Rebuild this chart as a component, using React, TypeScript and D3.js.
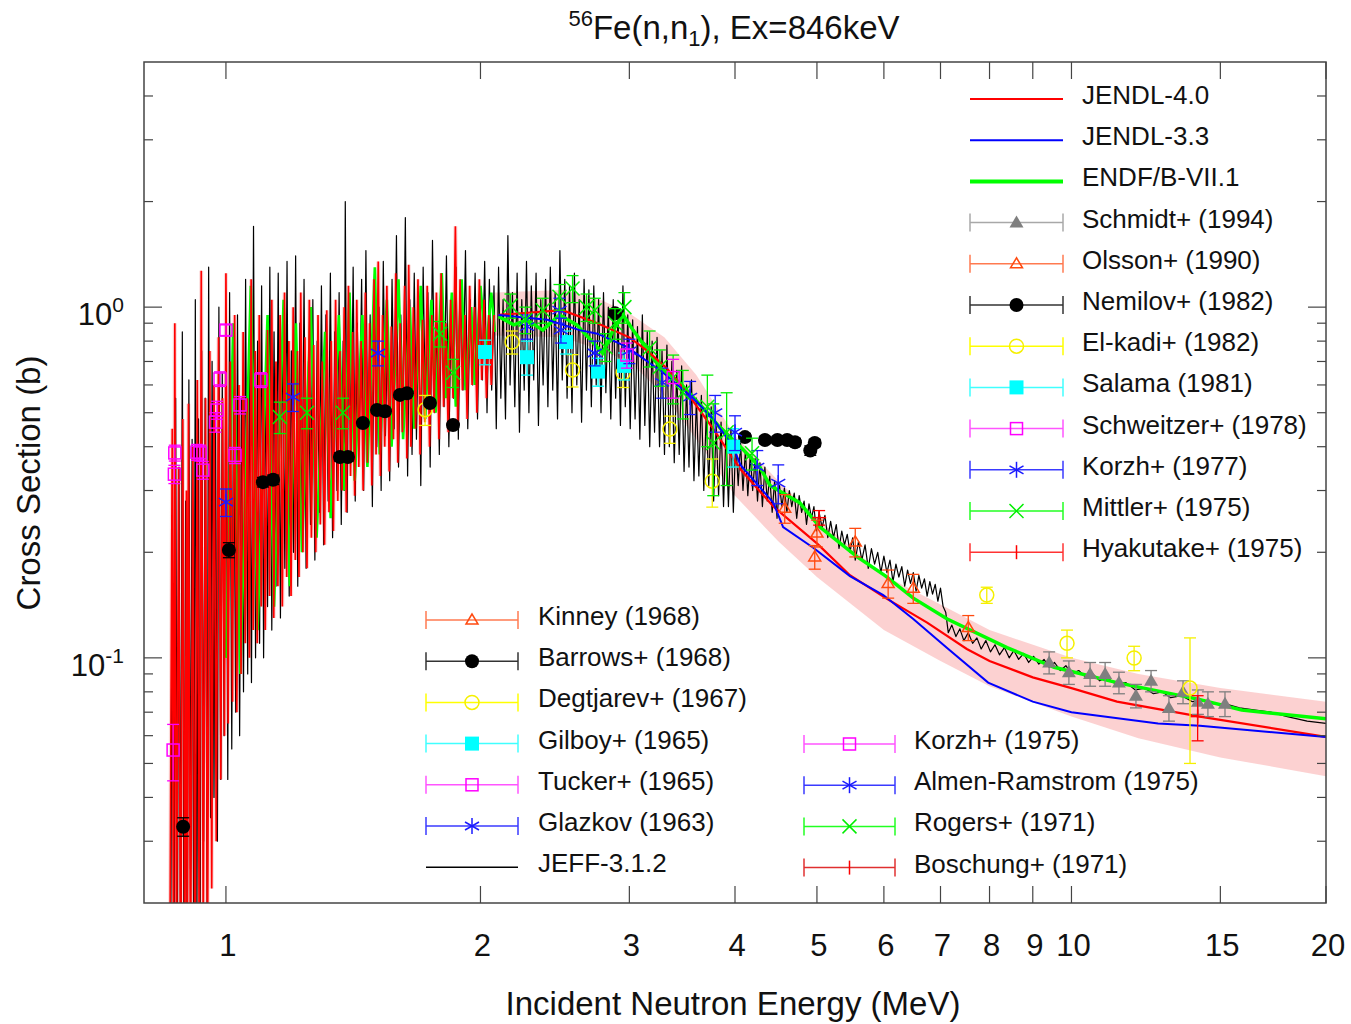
import React from "react";
import * as d3 from "d3";

type P = [number, number];

// ---------------- axes ----------------
const X_DOMAIN: [number, number] = [0.8, 20];
const Y_DOMAIN: [number, number] = [0.02, 5];
const X_TICKS = [1, 2, 3, 4, 5, 6, 7, 8, 9, 10, 15, 20];
const Y_MAJOR = [0.1, 1];
const Y_MAJOR_EXP = ["-1", "0"];
const Y_MINOR = [0.03, 0.04, 0.05, 0.06, 0.07, 0.08, 0.09, 0.2, 0.3, 0.4, 0.5, 0.6, 0.7, 0.8, 0.9, 2, 3, 4];

// ---------------- evaluated data ----------------
const JEFF_RES: P[] = [
  [0.860,0.011],[0.864,0.18],[0.868,0.010],[0.872,0.55],
  [0.876,0.013],[0.880,0.35],[0.884,0.015],[0.888,0.85],[0.892,0.012],[0.896,0.28],[0.900,0.011],[0.904,0.62],[0.908,0.025],[0.912,0.42],
  [0.916,0.013],[0.920,1.05],[0.924,0.018],[0.928,0.48],[0.932,0.012],[0.936,0.75],[0.941,0.030],[0.945,0.55],[0.950,0.020],[0.954,1.30],
  [0.959,0.035],[0.963,0.70],[0.968,0.040],[0.972,0.50],[0.977,0.030],[0.981,1.00],[0.986,0.045],[0.990,0.65],[0.995,0.060],[1.000,0.85],
  [1.005,0.045],[1.010,1.10],[1.016,0.055],[1.021,0.62],[1.027,0.07],[1.032,0.95],[1.038,0.06],[1.043,0.55],[1.049,0.08],[1.055,1.20],
  [1.061,0.09],[1.066,0.70],[1.072,0.085],[1.078,1.70],[1.084,0.10],[1.090,0.80],[1.096,0.11],[1.102,1.15],[1.108,0.10],[1.114,0.65],
  [1.120,0.14],[1.127,1.30],[1.133,0.12],[1.140,0.85],[1.146,0.16],[1.153,1.25],[1.160,0.13],[1.167,0.95],[1.174,0.18],[1.181,1.35],
  [1.188,0.15],[1.195,0.75],[1.202,0.20],[1.209,1.40],[1.216,0.16],[1.223,0.90],[1.230,0.22],[1.237,1.20],[1.244,0.18],[1.252,0.70],
  [1.259,0.24],[1.267,1.05],[1.274,0.19],[1.282,0.80],[1.290,0.26],[1.297,1.15],[1.305,0.21],[1.313,0.95],[1.321,0.28],[1.329,1.25],
  [1.337,0.22],[1.345,0.85],[1.353,0.30],[1.361,1.10],[1.369,0.24],[1.376,0.80],[1.380,0.30],[1.384,2.00],[1.391,0.26],[1.398,1.05],
  [1.406,0.38],[1.414,1.30],[1.422,0.28],[1.430,0.90],[1.438,0.42],[1.447,1.20],[1.455,0.30],[1.464,1.45],[1.472,0.36],[1.481,0.95],
  [1.490,0.27],[1.499,1.25],[1.508,0.40],[1.517,1.00],[1.526,0.30],[1.535,1.35],[1.544,0.43],[1.553,0.85],[1.562,0.32],[1.572,1.20],
  [1.581,0.45],[1.591,1.60],[1.600,0.35],[1.610,0.95],[1.620,0.47],[1.630,1.80],[1.640,0.33],[1.650,1.05],[1.660,0.38],[1.670,1.25],
  [1.680,0.42],[1.690,0.95],[1.700,0.31],[1.711,1.30],[1.722,0.48],[1.733,1.10],[1.744,0.35],[1.755,1.55],[1.766,0.50],[1.777,0.90],
  [1.788,0.38],[1.800,1.20],[1.811,0.52],[1.823,1.40],[1.835,0.40],[1.847,1.00],[1.859,0.55],[1.871,1.30],[1.883,0.42],[1.895,1.15],
  [1.907,0.58],[1.920,1.45],[1.932,0.45],[1.945,1.05],[1.958,0.60],[1.971,1.25],[1.984,0.48],[1.997,1.10],[2.010,0.62],[2.023,1.35],
  [2.036,0.50],[2.049,1.20],[2.062,0.58],[2.075,1.15],[2.088,0.45],[2.101,1.30],[2.114,0.55],[2.127,1.05],[2.141,0.48],[2.155,1.60],
  [2.168,0.60],[2.182,1.10],[2.196,0.52],[2.210,1.25],[2.224,0.44],[2.238,1.05],[2.253,0.58],[2.267,1.35],[2.282,0.50],[2.297,1.15],
  [2.312,0.62],[2.327,1.25],[2.342,0.46],[2.357,1.05],[2.372,0.60],[2.388,1.20],[2.403,0.52],[2.419,1.30],[2.435,0.58],[2.451,1.10],
  [2.467,0.48],[2.483,1.45],[2.499,0.62],[2.516,1.20],[2.532,0.55],[2.549,1.15],[2.566,0.50],[2.583,1.25],[2.600,0.60],[2.617,1.05],
  [2.634,0.47],[2.652,1.20],[2.669,0.58],[2.687,1.12],[2.705,0.52],[2.723,1.15],[2.741,0.60],[2.759,1.05],[2.777,0.50],[2.796,1.10],
  [2.814,0.57],[2.833,1.00],[2.852,0.48],[2.871,1.05],[2.890,0.55],[2.909,0.95],[2.928,0.46],[2.948,1.15],[2.967,0.52],[2.987,0.95],
  [3.007,0.45],[3.027,0.92],[3.047,0.48],[3.067,0.88],[3.087,0.42],[3.108,0.95],[3.129,0.46],[3.150,0.85],[3.171,0.40],[3.192,0.80],
  [3.213,0.44],[3.235,0.82],[3.257,0.40],[3.279,0.75],[3.301,0.38],[3.323,0.78],[3.345,0.40],[3.368,0.70],[3.390,0.36],[3.413,0.66],
  [3.436,0.38],[3.459,0.68],[3.482,0.34],[3.506,0.60],[3.529,0.35],[3.553,0.62],[3.577,0.32],[3.601,0.55],[3.625,0.33],[3.650,0.56],
  [3.674,0.30],[3.699,0.50],[3.724,0.31],[3.749,0.52],[3.774,0.28],[3.800,0.46],[3.825,0.29],[3.851,0.47],[3.877,0.27],[3.903,0.44],
  [3.929,0.27],[3.956,0.45],[3.982,0.26],
];
const JEFF_MID: P[] = [
  [4.008,0.42],[4.035,0.31],[4.061,0.41],[4.088,0.30],[4.115,0.39],[4.142,0.29],[4.170,0.38],[4.197,0.30],[4.225,0.37],[4.253,0.28],
  [4.281,0.36],[4.310,0.27],[4.339,0.35],[4.367,0.28],[4.397,0.33],[4.426,0.26],[4.456,0.32],[4.485,0.25],[4.515,0.31],[4.546,0.27],
  [4.576,0.305],[4.607,0.26],[4.638,0.30],[4.669,0.27],[4.700,0.295],[4.732,0.25],[4.764,0.29],[4.796,0.26],[4.828,0.28],[4.860,0.24],
  [4.893,0.275],[4.926,0.25],[4.959,0.27],[4.992,0.23],[5.030,0.26],[5.070,0.235],[5.110,0.255],[5.150,0.22],[5.190,0.245],[5.230,0.22],
  [5.270,0.24],[5.310,0.205],[5.350,0.23],[5.390,0.21],[5.430,0.225],[5.470,0.20],[5.510,0.22],[5.550,0.19],[5.600,0.215],[5.650,0.19],
  [5.700,0.21],[5.750,0.18],[5.800,0.205],[5.850,0.185],[5.900,0.20],[5.950,0.175],[6.000,0.195],[6.050,0.175],[6.100,0.19],[6.150,0.165],
  [6.200,0.185],[6.250,0.17],[6.300,0.182],[6.350,0.16],[6.400,0.178],[6.450,0.163],[6.500,0.175],[6.550,0.155],[6.600,0.172],[6.650,0.158],
  [6.700,0.168],[6.750,0.15],[6.800,0.165],[6.850,0.152],[6.900,0.162],[6.950,0.145],[7.000,0.158],[7.050,0.14],[7.100,0.135],
];
const JEFF_HIGH: P[] = [
  [7.15,0.118],[7.22,0.124],[7.30,0.115],[7.38,0.121],[7.46,0.112],[7.55,0.118],[7.64,0.110],[7.73,0.114],[7.82,0.106],[7.92,0.112],
  [8.02,0.104],[8.12,0.109],[8.22,0.102],[8.33,0.107],[8.44,0.100],[8.55,0.105],[8.66,0.099],[8.78,0.103],[8.90,0.097],[9.02,0.101],
  [9.15,0.096],[9.28,0.099],[9.41,0.094],[9.55,0.097],[9.70,0.092],[9.85,0.095],[10.0,0.090],[10.2,0.092],[10.4,0.088],[10.6,0.090],
  [10.8,0.086],[11.0,0.088],[11.3,0.084],[11.6,0.085],[11.9,0.081],[12.2,0.082],[12.5,0.079],[12.8,0.080],[13.1,0.077],[13.5,0.078],
  [13.9,0.075],[14.3,0.076],[14.7,0.074],[15.2,0.074],[15.8,0.072],[16.5,0.071],[17.2,0.070],[18.0,0.068],[19.0,0.066],[20.0,0.065],
];

const JENDL40_RES: P[] = [
  [0.858,0.010],[0.864,0.45],[0.867,0.010],[0.870,0.90],[0.874,0.011],[0.879,0.35],
  [0.884,0.009],[0.889,0.48],[0.894,0.012],[0.898,0.30],[0.900,0.010],[0.903,0.53],[0.908,0.011],[0.914,0.40],[0.919,0.010],[0.925,0.62],
  [0.930,0.012],[0.935,1.27],[0.940,0.015],[0.946,0.55],[0.951,0.013],[0.957,0.75],[0.962,0.022],[0.968,0.60],[0.974,0.030],[0.980,0.82],
  [0.986,0.045],[0.991,0.55],[0.996,0.060],[1.000,1.25],[1.006,0.065],[1.012,0.70],[1.018,0.075],[1.024,0.95],[1.030,0.070],[1.036,0.60],
  [1.042,0.090],[1.048,0.85],[1.054,0.11],[1.060,0.55],[1.066,0.10],[1.071,1.20],[1.077,0.12],[1.083,0.75],[1.089,0.11],[1.095,0.95],
  [1.101,0.14],[1.107,0.65],[1.113,0.12],[1.120,0.86],[1.126,0.15],[1.133,1.05],[1.139,0.13],[1.146,0.70],[1.152,0.16],[1.159,0.95],
  [1.166,0.14],[1.173,1.10],[1.180,0.17],[1.187,0.80],[1.194,0.15],[1.201,1.00],[1.208,0.19],[1.215,0.75],[1.220,0.17],[1.226,1.10],
  [1.233,0.20],[1.240,0.82],[1.247,0.18],[1.255,1.05],[1.262,0.22],[1.270,0.78],[1.277,0.20],[1.285,0.95],[1.293,0.24],[1.300,0.70],
  [1.308,0.21],[1.316,0.98],[1.324,0.26],[1.332,0.80],[1.340,0.23],[1.348,1.05],[1.356,0.28],[1.364,0.75],[1.372,0.30],[1.380,1.00],
  [1.388,0.26],[1.396,1.15],[1.404,0.33],[1.412,0.85],[1.420,0.29],[1.428,1.05],[1.436,0.35],[1.445,0.80],[1.453,0.30],[1.462,1.10],
  [1.470,0.36],[1.479,0.90],[1.488,0.31],[1.497,1.20],[1.505,0.38],[1.514,1.35],[1.523,0.33],[1.532,0.95],[1.541,0.40],[1.550,1.15],
  [1.560,0.34],[1.569,0.88],[1.578,0.42],[1.588,1.25],[1.597,0.36],[1.607,0.90],[1.617,0.44],[1.627,1.15],[1.637,0.37],[1.645,1.32],
  [1.655,0.40],[1.666,1.00],[1.676,0.45],[1.687,1.20],[1.697,0.38],[1.708,0.92],[1.719,0.47],[1.730,1.15],[1.741,0.40],[1.752,0.95],
  [1.763,0.50],[1.774,1.10],[1.786,0.42],[1.797,1.25],[1.809,0.52],[1.820,0.90],[1.832,0.44],[1.844,1.05],[1.856,0.55],[1.868,1.70],
  [1.880,0.46],[1.892,1.20],[1.904,0.58],[1.917,0.95],[1.929,0.48],[1.942,1.15],[1.955,0.60],[1.968,1.00],[1.981,0.50],[1.994,1.20],
  [2.007,0.62],[2.020,1.05],[2.033,0.55],[2.046,0.95],[2.060,0.60],[2.075,0.95],
];
const JENDL40_SMOOTH: P[] = [
  [2.10,0.95],[2.50,0.98],[2.75,0.90],[3.0,0.82],[3.15,0.75],[3.32,0.67],[3.51,0.57],[3.77,0.45],[3.98,0.37],[4.06,0.345],
  [4.44,0.27],[5.0,0.212],[5.47,0.172],[6.03,0.148],[6.75,0.126],[7.52,0.106],[8.0,0.098],[9.0,0.088],[10.0,0.082],[11.32,0.075],
  [14.19,0.068],[20,0.0595],
];
const JENDL33: P[] = [
  [2.10,0.95],[2.40,0.92],[2.62,0.86],[2.75,0.84],[2.98,0.77],[3.29,0.65],[3.57,0.55],[3.77,0.48],[3.98,0.40],[4.06,0.355],
  [4.44,0.277],[4.56,0.236],[4.95,0.206],[5.47,0.171],[5.99,0.151],[6.5,0.129],[7.15,0.106],[7.97,0.085],[9.0,0.075],[10.0,0.070],
  [12.66,0.065],[14.19,0.064],[20,0.0595],
];
const ENDF_RES: P[] = [
  [1.00,0.10],[1.02,0.90],[1.04,0.09],[1.07,1.15],[1.09,0.12],[1.12,0.95],[1.14,0.14],[1.17,1.05],[1.19,0.16],[1.21,0.90],
  [1.23,0.20],[1.26,1.00],[1.28,0.22],[1.31,0.85],[1.33,0.25],[1.36,0.95],[1.38,0.30],[1.40,1.10],[1.42,0.32],[1.45,0.95],
  [1.47,0.35],[1.50,1.30],[1.52,0.38],[1.55,1.05],[1.57,0.40],[1.60,1.20],[1.62,0.42],[1.65,1.00],[1.67,0.45],[1.70,1.15],
  [1.72,0.48],[1.75,1.05],[1.77,0.50],[1.80,1.25],[1.82,0.55],[1.85,1.10],[1.87,0.52],[1.90,1.20],[1.92,0.58],[1.95,1.00],
  [1.97,0.60],[2.00,1.15],[2.03,0.75],[2.06,1.10],[2.08,0.85],
];
const ENDF_SMOOTH: P[] = [
  [2.10,0.94],[2.19,0.89],[2.27,0.92],[2.37,0.86],[2.48,0.95],[2.60,0.89],[2.79,0.74],[2.87,0.86],[2.95,0.95],[3.03,0.86],
  [3.26,0.675],[3.44,0.61],[3.71,0.50],[3.91,0.43],[4.06,0.40],[4.28,0.35],[4.40,0.31],[4.77,0.277],[5.04,0.236],[5.58,0.194],
  [6.03,0.171],[6.5,0.148],[7.13,0.129],[8.39,0.107],[9.54,0.094],[11.32,0.085],[14.19,0.076],[15.9,0.071],[20,0.067],
];
const BAND_E = [2.08, 2.5, 2.75, 3.0, 3.3, 3.6, 4.0, 4.5, 5.0, 6.0, 7.0, 8.0, 10, 12, 15, 20];
const BAND_LO = [0.83, 0.82, 0.76, 0.70, 0.56, 0.42, 0.29, 0.215, 0.17, 0.12, 0.098, 0.083, 0.068, 0.059, 0.052, 0.046];
const BAND_HI = [1.10, 1.12, 1.06, 0.96, 0.82, 0.64, 0.43, 0.32, 0.25, 0.172, 0.142, 0.12, 0.10, 0.09, 0.082, 0.075];

// ---------------- experimental data ----------------
const SCHMIDT_E = [9.41, 9.93, 10.52, 10.96, 11.38, 11.92, 12.42, 13.04, 13.55, 14.11, 14.50, 15.19];
const SCHMIDT_XS = [0.097, 0.091, 0.090, 0.090, 0.085, 0.078, 0.086, 0.072, 0.080, 0.075, 0.074, 0.074];
const SCHMIDT_DXS = [0.007, 0.007, 0.007, 0.007, 0.006, 0.006, 0.006, 0.006, 0.006, 0.006, 0.006, 0.006];
const OLSSON_E = [4.97, 5.55, 6.07, 7.55];
const OLSSON_XS = [0.194, 0.214, 0.163, 0.122];
const OLSSON_DXS = [0.015, 0.02, 0.015, 0.01];
const NEMILOV_E = [2.885, 4.11, 4.34, 4.49, 4.61, 4.71, 4.91, 4.97];
const NEMILOV_XS = [0.96, 0.426, 0.418, 0.418, 0.418, 0.412, 0.39, 0.41];
const NEMILOV_DXS = [0.02, 0.01, 0.01, 0.01, 0.01, 0.01, 0.012, 0.01];
const ELKADI_E = [1.72, 2.18, 2.57, 2.95, 3.35, 3.76];
const ELKADI_XS = [0.51, 0.795, 0.662, 0.65, 0.449, 0.319];
const ELKADI_DXS = [0.05, 0.06, 0.07, 0.06, 0.04, 0.05];
const SALAMA_E = [2.525, 2.755, 2.957, 3.98];
const SALAMA_XS = [0.795, 0.655, 0.68, 0.40];
const SALAMA_DXS = [0.06, 0.06, 0.06, 0.05];
const SCHWEITZER_E = [0.866, 0.869, 0.870, 0.924, 0.932, 0.939, 0.972, 0.976, 1.025];
const SCHWEITZER_XS = [0.0546, 0.334, 0.384, 0.386, 0.384, 0.343, 0.47, 0.509, 0.378];
const SCHWEITZER_DXS = [0.01, 0.02, 0.02, 0.02, 0.02, 0.02, 0.03, 0.03, 0.02];
const KORZH77_E = [2.27, 2.48, 2.49, 3.0, 3.28, 3.54, 3.79, 4.0, 4.25, 4.50];
const KORZH77_XS = [0.88, 0.98, 0.86, 0.75, 0.61, 0.554, 0.50, 0.44, 0.35, 0.315];
const KORZH77_DXS = [0.07, 0.08, 0.07, 0.06, 0.06, 0.06, 0.06, 0.05, 0.04, 0.04];
const MITTLER_E = [2.17, 2.26, 2.37, 2.48, 2.57, 2.67, 2.73, 2.81, 2.885, 2.96, 3.17, 3.26, 3.38, 3.47, 3.71, 3.77, 3.91];
const MITTLER_XS = [1.01, 0.92, 0.98, 1.07, 1.13, 1.0, 0.98, 0.77, 0.90, 1.0, 0.765, 0.675, 0.63, 0.57, 0.52, 0.41, 0.44];
const MITTLER_DXS = [0.08, 0.08, 0.08, 0.09, 0.10, 0.09, 0.08, 0.07, 0.09, 0.10, 0.09, 0.08, 0.10, 0.09, 0.12, 0.12, 0.13];
const HYAKUTAKE_E = [5.03];
const HYAKUTAKE_XS = [0.251];
const HYAKUTAKE_DXS = [0.012];
const KINNEY_E = [4.58, 5.0, 6.5];
const KINNEY_XS = [0.267, 0.227, 0.158];
const KINNEY_DXS = [0.025, 0.02, 0.015];
const BARROWS_E = [0.890, 1.008, 1.106, 1.137, 1.364, 1.394, 1.452, 1.509, 1.542, 1.606, 1.637, 1.743, 1.856];
const BARROWS_XS = [0.033, 0.203, 0.317, 0.322, 0.374, 0.374, 0.467, 0.509, 0.505, 0.562, 0.568, 0.533, 0.461];
const BARROWS_DXS = [0.002, 0.01, 0.01, 0.01, 0.01, 0.01, 0.01, 0.01, 0.01, 0.01, 0.01, 0.01, 0.01];
const DEGTJAREV_E = [7.94, 9.88, 11.86, 13.81];
const DEGTJAREV_XS = [0.151, 0.110, 0.0999, 0.082];
const DEGTJAREV_DXS = [0.008, 0.010, 0.008, 0.032];
const GILBOY_E = [2.025, 2.27];
const GILBOY_XS = [0.745, 0.72];
const GILBOY_DXS = [0.06, 0.08];
const TUCKER_E = [0.984, 1.0, 1.039, 1.100];
const TUCKER_XS = [0.624, 0.86, 0.526, 0.62];
const TUCKER_DXS = [0.03, 0.03, 0.03, 0.03];
const GLAZKOV_E = [1.0, 1.2, 1.513];
const GLAZKOV_XS = [0.278, 0.554, 0.74];
const GLAZKOV_DXS = [0.025, 0.05, 0.06];
const KORZH75_E = [2.98, 3.38];
const KORZH75_XS = [0.73, 0.63];
const KORZH75_DXS = [0.06, 0.08];
const ALMEN_E = [2.73];
const ALMEN_XS = [0.74];
const ALMEN_DXS = [0.06];
const ROGERS_E = [1.158, 1.247, 1.375, 1.791, 1.856, 4.19];
const ROGERS_XS = [0.486, 0.50, 0.50, 0.84, 0.65, 0.383];
const ROGERS_DXS = [0.05, 0.05, 0.05, 0.07, 0.06, 0.04];
const BOSCHUNG_E = [14.1];
const BOSCHUNG_XS = [0.068];
const BOSCHUNG_DXS = [0.01];

type Mk = "triF" | "triO" | "cirF" | "cirO" | "sqF" | "sqO" | "ast" | "x" | "plus" | "none";
interface Exp { label: string; E: number[]; XS: number[]; DXS: number[]; color: string; lcolor: string; mk: Mk; }

const EXP_SERIES: Exp[] = [
  { label: "Schmidt+ (1994)", E: SCHMIDT_E, XS: SCHMIDT_XS, DXS: SCHMIDT_DXS, color: "#7f7f7f", lcolor: "#a8a8a8", mk: "triF" },
  { label: "Olsson+ (1990)", E: OLSSON_E, XS: OLSSON_XS, DXS: OLSSON_DXS, color: "#ff4a10", lcolor: "#ff7a50", mk: "triO" },
  { label: "Nemilov+ (1982)", E: NEMILOV_E, XS: NEMILOV_XS, DXS: NEMILOV_DXS, color: "#000000", lcolor: "#333333", mk: "cirF" },
  { label: "El-kadi+ (1982)", E: ELKADI_E, XS: ELKADI_XS, DXS: ELKADI_DXS, color: "#f5f000", lcolor: "#ffff00", mk: "cirO" },
  { label: "Salama (1981)", E: SALAMA_E, XS: SALAMA_XS, DXS: SALAMA_DXS, color: "#00ffff", lcolor: "#40ffff", mk: "sqF" },
  { label: "Schweitzer+ (1978)", E: SCHWEITZER_E, XS: SCHWEITZER_XS, DXS: SCHWEITZER_DXS, color: "#ff00ff", lcolor: "#ff55ff", mk: "sqO" },
  { label: "Korzh+ (1977)", E: KORZH77_E, XS: KORZH77_XS, DXS: KORZH77_DXS, color: "#1a1aff", lcolor: "#3a3aff", mk: "ast" },
  { label: "Mittler+ (1975)", E: MITTLER_E, XS: MITTLER_XS, DXS: MITTLER_DXS, color: "#00ee00", lcolor: "#22ff22", mk: "x" },
  { label: "Hyakutake+ (1975)", E: HYAKUTAKE_E, XS: HYAKUTAKE_XS, DXS: HYAKUTAKE_DXS, color: "#ff0000", lcolor: "#ff3333", mk: "plus" },
  { label: "Kinney (1968)", E: KINNEY_E, XS: KINNEY_XS, DXS: KINNEY_DXS, color: "#ff4a10", lcolor: "#ff7a50", mk: "triO" },
  { label: "Barrows+ (1968)", E: BARROWS_E, XS: BARROWS_XS, DXS: BARROWS_DXS, color: "#000000", lcolor: "#333333", mk: "cirF" },
  { label: "Degtjarev+ (1967)", E: DEGTJAREV_E, XS: DEGTJAREV_XS, DXS: DEGTJAREV_DXS, color: "#f5f000", lcolor: "#ffff00", mk: "cirO" },
  { label: "Gilboy+ (1965)", E: GILBOY_E, XS: GILBOY_XS, DXS: GILBOY_DXS, color: "#00ffff", lcolor: "#40ffff", mk: "sqF" },
  { label: "Tucker+ (1965)", E: TUCKER_E, XS: TUCKER_XS, DXS: TUCKER_DXS, color: "#ff00ff", lcolor: "#ff55ff", mk: "sqO" },
  { label: "Glazkov (1963)", E: GLAZKOV_E, XS: GLAZKOV_XS, DXS: GLAZKOV_DXS, color: "#1a1aff", lcolor: "#3a3aff", mk: "ast" },
  { label: "Korzh+ (1975)", E: KORZH75_E, XS: KORZH75_XS, DXS: KORZH75_DXS, color: "#ff00ff", lcolor: "#ff55ff", mk: "sqO" },
  { label: "Almen-Ramstrom (1975)", E: ALMEN_E, XS: ALMEN_XS, DXS: ALMEN_DXS, color: "#1a1aff", lcolor: "#3a3aff", mk: "ast" },
  { label: "Rogers+ (1971)", E: ROGERS_E, XS: ROGERS_XS, DXS: ROGERS_DXS, color: "#00ee00", lcolor: "#22ff22", mk: "x" },
  { label: "Boschung+ (1971)", E: BOSCHUNG_E, XS: BOSCHUNG_XS, DXS: BOSCHUNG_DXS, color: "#ff0000", lcolor: "#e03030", mk: "plus" },
];

const LEGEND_RIGHT = ["JENDL-4.0", "JENDL-3.3", "ENDF/B-VII.1", "Schmidt+ (1994)", "Olsson+ (1990)", "Nemilov+ (1982)", "El-kadi+ (1982)",
  "Salama (1981)", "Schweitzer+ (1978)", "Korzh+ (1977)", "Mittler+ (1975)", "Hyakutake+ (1975)"];
const LEGEND_LEFT1 = ["Kinney (1968)", "Barrows+ (1968)", "Degtjarev+ (1967)", "Gilboy+ (1965)", "Tucker+ (1965)", "Glazkov (1963)", "JEFF-3.1.2"];
const LEGEND_LEFT2 = ["Korzh+ (1975)", "Almen-Ramstrom (1975)", "Rogers+ (1971)", "Boschung+ (1971)"];

const LINE_STYLES: Record<string, { color: string; w: number }> = {
  "JENDL-4.0": { color: "#ff0000", w: 2 },
  "JENDL-3.3": { color: "#0000ff", w: 2 },
  "ENDF/B-VII.1": { color: "#00ff00", w: 4 },
  "JEFF-3.1.2": { color: "#000000", w: 1.5 },
};

function Marker({ mk, x, y, color }: { mk: Mk; x: number; y: number; color: string }) {
  switch (mk) {
    case "triF":
      return <polygon points={`${x},${y - 7} ${x - 7},${y + 5} ${x + 7},${y + 5}`} fill={color} />;
    case "triO":
      return <polygon points={`${x},${y - 6} ${x - 6},${y + 4} ${x + 6},${y + 4}`} fill="none" stroke={color} strokeWidth={1.5} />;
    case "cirF":
      return <circle cx={x} cy={y} r={7} fill={color} />;
    case "cirO":
      return <circle cx={x} cy={y} r={7} fill="none" stroke={color} strokeWidth={1.5} />;
    case "sqF":
      return <rect x={x - 7} y={y - 7} width={14} height={14} fill={color} />;
    case "sqO":
      return <rect x={x - 6} y={y - 6} width={12} height={12} fill="none" stroke={color} strokeWidth={1.5} />;
    case "ast":
      return (
        <g stroke={color} strokeWidth={1.5}>
          <line x1={x} y1={y - 8} x2={x} y2={y + 8} />
          <line x1={x - 7} y1={y - 4} x2={x + 7} y2={y + 4} />
          <line x1={x - 7} y1={y + 4} x2={x + 7} y2={y - 4} />
        </g>
      );
    case "x":
      return (
        <g stroke={color} strokeWidth={1.5}>
          <line x1={x - 7} y1={y - 7} x2={x + 7} y2={y + 7} />
          <line x1={x - 7} y1={y + 7} x2={x + 7} y2={y - 7} />
        </g>
      );
    case "plus":
      return (
        <g stroke={color} strokeWidth={1.5}>
          <line x1={x} y1={y - 7} x2={x} y2={y + 7} />
          <line x1={x - 7} y1={y} x2={x + 7} y2={y} />
        </g>
      );
    default:
      return null;
  }
}

export default function App() {
  const L = 144, R = 1326, T = 62, B = 903;
  const x = d3.scaleLog().domain(X_DOMAIN).range([L, R]);
  const y = d3.scaleLog().domain(Y_DOMAIN).range([B, T]);
  const line = d3.line<P>().x((d) => x(d[0])).y((d) => y(d[1]));
  const band = d3.area<number>()
    .x((d) => x(d))
    .y0((_, i) => y(BAND_LO[i]))
    .y1((_, i) => y(BAND_HI[i]));

  const jeff = [...JEFF_RES, ...JEFF_MID, ...JEFF_HIGH];
  const font = "'Liberation Sans', Arial, Helvetica, sans-serif";

  const legendRow = (label: string, x1: number, x2: number, tx: number, yy: number, key: string) => {
    const ls = LINE_STYLES[label];
    const ex = EXP_SERIES.find((s) => s.label === label);
    const cx = (x1 + x2) / 2;
    return (
      <g key={key}>
        {ls && <line x1={x1} x2={x2} y1={yy} y2={yy} stroke={ls.color} strokeWidth={ls.w} />}
        {ex && (
          <g>
            <line x1={x1} x2={x2} y1={yy} y2={yy} stroke={ex.lcolor} strokeWidth={1.5} />
            <line x1={x1} x2={x1} y1={yy - 9} y2={yy + 9} stroke={ex.lcolor} strokeWidth={1.5} />
            <line x1={x2} x2={x2} y1={yy - 9} y2={yy + 9} stroke={ex.lcolor} strokeWidth={1.5} />
            {ex.mk === "plus" ? (
              <line x1={cx} x2={cx} y1={yy - 7} y2={yy + 7} stroke={ex.color} strokeWidth={1.5} />
            ) : (
              <Marker mk={ex.mk} x={cx} y={yy} color={ex.color} />
            )}
          </g>
        )}
        <text x={tx} y={yy + 5} fontSize={26} fill="#111">{label}</text>
      </g>
    );
  };

  return (
    <svg width={1351} height={1024} style={{ position: "absolute", left: 0, top: 0, background: "#fff" }} fontFamily={font}>
      <defs>
        <clipPath id="plot">
          <rect x={L} y={T} width={R - L} height={B - T} />
        </clipPath>
      </defs>
      <rect x={0} y={0} width={1351} height={1024} fill="#fff" />

      <g clipPath="url(#plot)">
        {/* uncertainty band */}
        <path d={band(BAND_E) || ""} fill="#fbc6c6" opacity={0.8} />
        <path d={line(JENDL40_RES) || ""} fill="none" stroke="#f7b0b0" strokeWidth={4} opacity={0.45} />
        {/* JEFF-3.1.2 */}
        <path d={line(jeff) || ""} fill="none" stroke="#000" strokeWidth={1.2} strokeLinejoin="round" />
        {/* ENDF/B-VII.1 */}
        <path d={line(ENDF_RES) || ""} fill="none" stroke="#00ff00" strokeWidth={2.6} />
        {/* JENDL-4.0 */}
        <path d={line(JENDL40_RES) || ""} fill="none" stroke="#ff0000" strokeWidth={1.7} />
        <path d={line(ENDF_SMOOTH) || ""} fill="none" stroke="#00ff00" strokeWidth={3.5} />
        <path d={line(JENDL40_SMOOTH) || ""} fill="none" stroke="#ff0000" strokeWidth={2.2} />
        <path d={line(JENDL33) || ""} fill="none" stroke="#0000ff" strokeWidth={2} />

        {/* experimental data */}
        {EXP_SERIES.map((s) => (
          <g key={s.label}>
            {s.E.map((e, i) => {
              const px = x(e);
              const py = y(s.XS[i]);
              const y1 = y(s.XS[i] + s.DXS[i]);
              const y2 = y(Math.max(s.XS[i] - s.DXS[i], 0.001));
              return (
                <g key={i}>
                  <line x1={px} x2={px} y1={y1} y2={y2} stroke={s.color} strokeWidth={1.3} />
                  <line x1={px - 6} x2={px + 6} y1={y1} y2={y1} stroke={s.color} strokeWidth={1.3} />
                  <line x1={px - 6} x2={px + 6} y1={y2} y2={y2} stroke={s.color} strokeWidth={1.3} />
                  <Marker mk={s.mk} x={px} y={py} color={s.color} />
                </g>
              );
            })}
          </g>
        ))}
      </g>

      {/* frame */}
      <rect x={L} y={T} width={R - L} height={B - T} fill="none" stroke="#444" strokeWidth={1.5} />

      {/* x ticks */}
      {X_TICKS.map((t) => (
        <g key={"xt" + t}>
          <line x1={x(t)} x2={x(t)} y1={B} y2={B - 17} stroke="#444" strokeWidth={1.2} />
          <line x1={x(t)} x2={x(t)} y1={T} y2={T + 17} stroke="#444" strokeWidth={1.2} />
          <text x={x(t) + 2} y={956} fontSize={31} textAnchor="middle" fill="#111">{t}</text>
        </g>
      ))}
      {/* y ticks */}
      {Y_MAJOR.map((t, i) => (
        <g key={"ym" + t}>
          <line x1={L} x2={L + 18} y1={y(t)} y2={y(t)} stroke="#444" strokeWidth={1.2} />
          <line x1={R} x2={R - 18} y1={y(t)} y2={y(t)} stroke="#444" strokeWidth={1.2} />
          <text x={124} y={y(t) + 18} fontSize={31} textAnchor="end" fill="#111">
            10<tspan fontSize={21} dy={-13}>{Y_MAJOR_EXP[i]}</tspan>
          </text>
        </g>
      ))}
      {Y_MINOR.map((t) => (
        <g key={"yn" + t}>
          <line x1={L} x2={L + 9} y1={y(t)} y2={y(t)} stroke="#444" strokeWidth={1.2} />
          <line x1={R} x2={R - 9} y1={y(t)} y2={y(t)} stroke="#444" strokeWidth={1.2} />
        </g>
      ))}

      {/* title */}
      <text x={734} y={39} fontSize={33} textAnchor="middle" fill="#111">
        <tspan fontSize={22} dy={-13}>56</tspan>
        <tspan dy={13}>Fe(n,n</tspan>
        <tspan fontSize={22} dy={7}>1</tspan>
        <tspan dy={-7}>), Ex=846keV</tspan>
      </text>
      {/* axis labels */}
      <text x={733} y={1015} fontSize={33} textAnchor="middle" fill="#111">Incident Neutron Energy (MeV)</text>
      <text transform="translate(40,483) rotate(-90)" fontSize={33} textAnchor="middle" fill="#111">Cross Section (b)</text>

      {/* legends */}
      {LEGEND_RIGHT.map((lab, i) => legendRow(lab, 970, 1063, 1082, 99 + i * 41.2, "r" + i))}
      {LEGEND_LEFT1.map((lab, i) => legendRow(lab, 426, 518, 538, 620 + i * 41.2, "a" + i))}
      {LEGEND_LEFT2.map((lab, i) => legendRow(lab, 804, 895, 914, 744 + i * 41.2, "b" + i))}
    </svg>
  );
}
